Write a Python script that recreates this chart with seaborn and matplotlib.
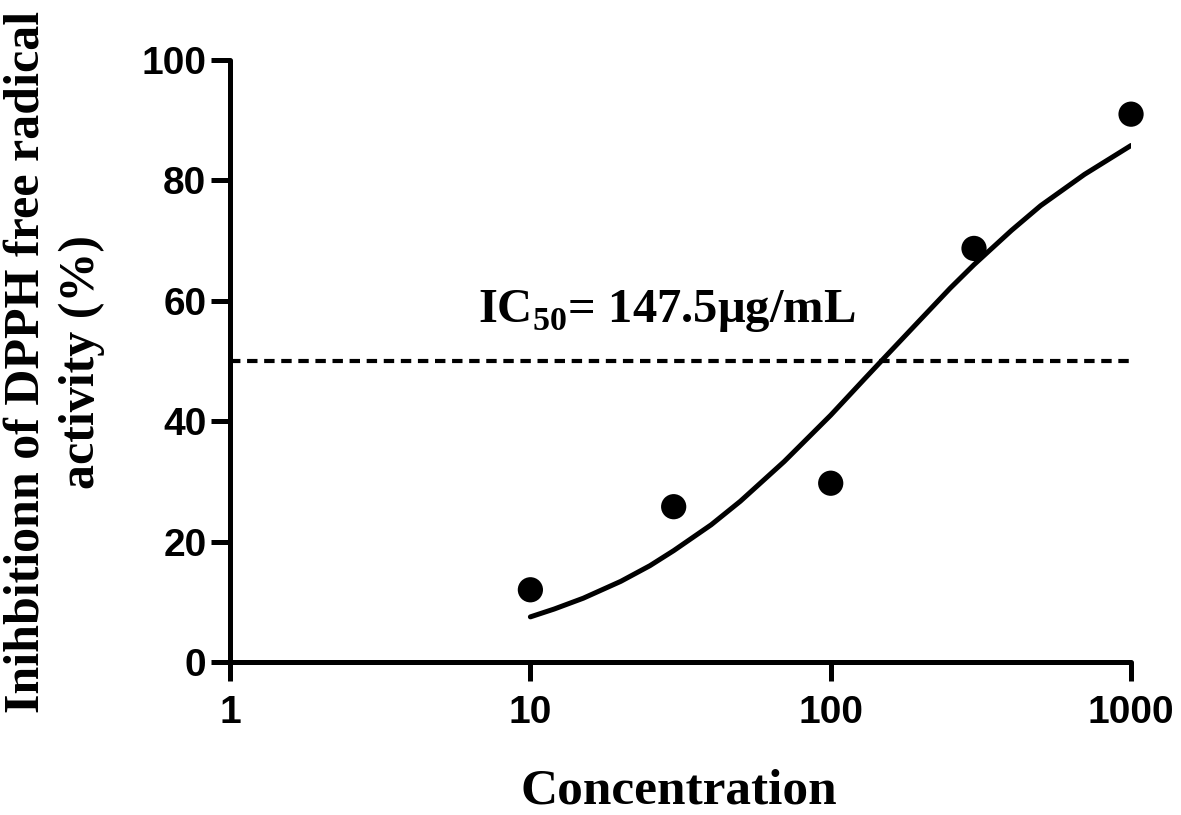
import numpy as np
import pandas as pd
import seaborn as sns
import matplotlib.pyplot as plt

# measured points
conc = [10, 30, 100, 300, 1000]
inhibition = [12.0, 25.8, 29.7, 68.7, 91.0]

# fitted sigmoid
curve_x = [10, 12, 15, 20, 25, 30, 40, 50, 70, 100, 130, 150, 200, 250, 300, 400, 500, 700, 1000]
curve_y = [7.5, 8.8, 10.6, 13.4, 16.0, 18.5, 22.8, 26.7, 33.3, 41.0, 47.1, 50.4, 57.0, 62.1,
           66.0, 71.7, 75.8, 81.0, 85.8]

x_ticks = [1, 10, 100, 1000]
y_ticks = [0, 20, 40, 60, 80, 100]
ic50_level = 50

points = pd.DataFrame({"Concentration": conc, "Inhibition": inhibition})
fit = pd.DataFrame({"Concentration": curve_x, "Inhibition": curve_y})

sns.set_style("ticks")
plt.rcParams['font.family'] = ['Liberation Sans', 'DejaVu Sans']
plt.rcParams['mathtext.fontset'] = 'custom'
plt.rcParams['mathtext.rm'] = 'Liberation Serif'
plt.rcParams['mathtext.bf'] = 'Liberation Serif:bold'
plt.rcParams['text.color'] = 'black'
plt.rcParams['axes.edgecolor'] = 'black'
plt.rcParams['xtick.color'] = 'black'
plt.rcParams['ytick.color'] = 'black'

serif = ["Liberation Serif", "DejaVu Serif"]

fig = plt.figure(figsize=(11.81, 8.15), dpi=100)
ax = fig.add_axes([0.1948, 0.1877, 0.7629, 0.7387])

ax.axhline(ic50_level, color="black", lw=3, ls=(0, (2.5, 1.6)))
sns.lineplot(data=fit, x="Concentration", y="Inhibition", color="black", lw=3.6, ax=ax)
sns.scatterplot(data=points, x="Concentration", y="Inhibition", color="black", s=330,
                edgecolor="none", ax=ax, zorder=5, clip_on=False)

ax.set_xscale("log")
ax.set_xlim(1, 1000)
ax.set_ylim(0, 100)
ax.set_xticks(x_ticks)
ax.set_xticklabels([str(t) for t in x_ticks])
ax.xaxis.set_minor_locator(plt.NullLocator())
ax.set_yticks(y_ticks)

for s in ["top", "right"]:
    ax.spines[s].set_visible(False)
for s in ["left", "bottom"]:
    ax.spines[s].set_linewidth(3.6)
    ax.spines[s].set_capstyle("round")
ax.tick_params(width=3.6, length=14, labelsize=28, color="black", labelcolor="black")
ax.tick_params(axis="x", pad=10)
ax.tick_params(axis="y", pad=3)
for lab in ax.get_xticklabels() + ax.get_yticklabels():
    lab.set_fontweight("bold")
ax.set_xlabel("")
ax.set_ylabel("")

ax.text(6.7, 56.5, r"IC$_{\mathbf{50}}$= 147.5μg/mL", fontsize=35, fontweight="bold",
        family=serif, ha="left", va="baseline")

fig.text(679 / 1181, 1 - 804 / 815, "Concentration", fontsize=37,
         fontweight="bold", family=serif, ha="center", va="baseline")
fig.text(54 / 1181, 0.556, "Inihbitionn of DPPH free radical\nactivity (%)", rotation=90,
         fontsize=36, fontweight="bold", family=serif,
         ha="center", va="center", multialignment="center", linespacing=1.25)

fig.savefig("out.png", dpi=100)
